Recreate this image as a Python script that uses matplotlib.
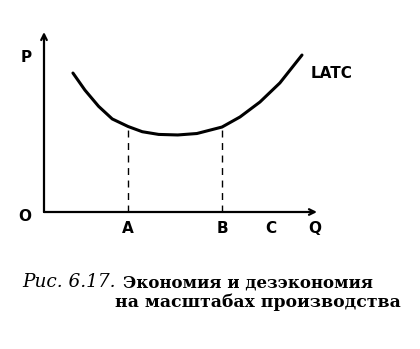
import matplotlib.pyplot as plt

# LATC curve (Q, P)
q = [1.06, 1.5, 2.0, 2.5, 3.08, 3.6, 4.2, 4.9, 5.6, 6.52, 7.18, 7.91, 8.64, 9.45]
latc = [7.72, 6.77, 5.87, 5.17, 4.75, 4.46, 4.31, 4.28, 4.36, 4.72, 5.28, 6.11, 7.17, 8.72]
q_marks = ['A', 'B', 'C']
q_pos = [3.08, 6.52, 8.32]
dashed = [3.08, 6.52]

fig = plt.figure(figsize=(4.2, 3.49), dpi=100)
ax = fig.add_axes([44 / 420, (349 - 212) / 349, 273 / 420, 180 / 349])
ax.set_xlim(0, 10)
ax.set_ylim(0, 10)
ax.axis('off')

# axes with arrows
ax.annotate('', xy=(10, 0), xytext=(0, 0),
            arrowprops=dict(arrowstyle='->', lw=1.6, color='black', shrinkA=0, shrinkB=0))
ax.annotate('', xy=(0, 10), xytext=(0, 0),
            arrowprops=dict(arrowstyle='->', lw=1.6, color='black', shrinkA=0, shrinkB=0))

ax.plot(q, latc, color='black', lw=2.2, solid_capstyle='round', solid_joinstyle='round')

for x in dashed:
    y = latc[q.index(x)]
    ax.plot([x, x], [0, y], color='black', lw=1, linestyle=(0, (5, 4)))

bold = dict(fontweight='bold', fontsize=11, family='DejaVu Sans')
for lab, x in zip(q_marks, q_pos):
    ax.text(x, -0.9, lab, ha='center', va='center', **bold)
ax.text(9.9, -0.9, 'Q', ha='center', va='center', **bold)
ax.text(-0.45, -0.25, 'O', ha='right', va='center', **bold)
ax.text(-0.45, 8.6, 'P', ha='right', va='center', **bold)
ax.text(9.75, 7.7, 'LATC', ha='left', va='center', **bold)

# caption
fig.text(22 / 420, 1 - 287 / 349, 'Рис. 6.17.', family='DejaVu Serif',
         style='italic', fontsize=13.3, va='baseline', ha='left')
fig.text(373 / 420, 1 - 287 / 349, 'Экономия и дезэкономия', family='DejaVu Serif',
         fontweight='bold', fontsize=12, va='baseline', ha='right')
fig.text(401 / 420, 1 - 307 / 349, 'на масштабах производства', family='DejaVu Serif',
         fontweight='bold', fontsize=12.4, va='baseline', ha='right')

plt.savefig('out.png', dpi=100)
